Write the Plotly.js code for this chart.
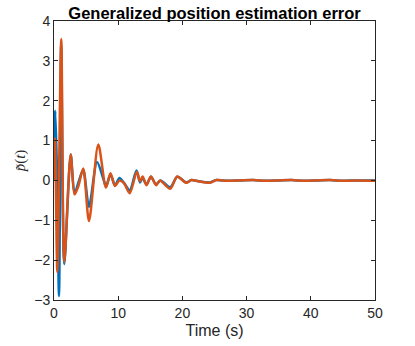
<!DOCTYPE html>
<html>
<head>
<meta charset="utf-8">
<script src="https://cdn.plot.ly/plotly-3.0.1.min.js"></script>
<style>
  html, body { margin: 0; padding: 0; background: #fff; }
  #chart { width: 415px; height: 346px; }
</style>
</head>
<body>
<div id="chart"></div>
<script>
// series 1 (blue)
var tBlue = [0, 0.2, 0.45, 0.78, 1.12, 1.6, 2.6, 3.2, 3.8, 4.55, 5.45, 6.7, 7.7, 8.1, 8.8, 9.5, 10.2, 10.9,
    11.8, 12.85, 13.4, 13.8, 14.4, 15.1, 15.9, 16.6, 18.1, 19.2, 20.6, 21.4, 22.5, 24.3, 25.3, 27, 29,
    31, 33, 35, 37, 39, 41, 43, 45, 47, 50];
var vBlue = [0, 1.75, 0.3, -2.9, 3.4, -2.1, 0.65, -0.33, -0.05, 0.27, -0.66, 0.46, 0.03, -0.15, 0.15, -0.12, 0.06, -0.06,
    -0.25, 0.25, -0.05, 0.06, -0.1, 0.09, -0.1, 0.0, -0.17, 0.09, -0.05, 0.01, -0.02, -0.05, 0.01, -0.01, 0.0,
    0.01, -0.01, 0.0, 0.01, -0.01, 0.0, 0.01, -0.01, 0.0, 0.0];

// series 2 (orange)
var tOrange = [0, 0.16, 0.52, 1.13, 1.6, 2.6, 3.2, 3.8, 4.55, 5.45, 6.9, 8.1, 8.8, 9.5, 10.2, 10.9,
    11.8, 12.9, 13.4, 13.8, 14.4, 15.1, 15.9, 16.5, 18.1, 19.2, 20.6, 21.4, 22.5, 24.3, 25.3, 27, 29,
    31, 33, 35, 37, 39, 41, 43, 45, 47, 50];
var vOrange = [0, 1.05, -2.3, 3.55, -2.05, 0.65, -0.35, -0.14, 0.3, -1.02, 0.9, -0.18, 0.18, -0.14, 0.0, -0.07,
    -0.32, 0.22, -0.02, 0.1, -0.12, 0.1, -0.12, 0.0, -0.21, 0.1, -0.06, 0.01, -0.02, -0.06, 0.01, -0.01, 0.0,
    0.01, -0.01, 0.0, 0.01, -0.01, 0.0, 0.01, -0.01, 0.0, -0.01];

var xTicks = [0, 10, 20, 30, 40, 50];
var yTicks = [-3, -2, -1, 0, 1, 2, 3, 4];

var trace1 = {
    x: tBlue, y: vBlue, type: 'scatter', mode: 'lines',
    line: { color: '#0072BD', width: 2.5, shape: 'spline', smoothing: 0.8 }
};
var trace2 = {
    x: tOrange, y: vOrange, type: 'scatter', mode: 'lines',
    line: { color: '#D95319', width: 2.5, shape: 'spline', smoothing: 0.8 }
};

var axisCommon = {
    showline: true, linecolor: '#262626', linewidth: 1, mirror: 'ticks',
    ticks: 'inside', ticklen: 4, tickcolor: '#262626', tickwidth: 1,
    showgrid: false, zeroline: false,
    tickfont: { family: 'Liberation Sans, Arial, sans-serif', size: 14, color: '#262626' }
};

var layout = {
    width: 415, height: 346,
    margin: { l: 54, r: 40, t: 21, b: 46 },
    paper_bgcolor: '#fff', plot_bgcolor: '#fff',
    showlegend: false,
    title: {
        text: '<b>Generalized position estimation error</b>',
        font: { family: 'Liberation Sans, Arial, sans-serif', size: 16.5, color: '#000' },
        x: 0.517, xanchor: 'center', y: 0.962, yanchor: 'middle'
    },
    xaxis: Object.assign({}, axisCommon, {
        range: [0, 50], tickvals: xTicks,
        title: { text: 'Time (s)', standoff: 5, font: { family: 'Liberation Sans, Arial, sans-serif', size: 16, color: '#262626' } }
    }),
    yaxis: Object.assign({}, axisCommon, {
        range: [-3, 4], tickvals: yTicks,
        title: { text: '<i>p\u0303</i>(<i>t</i>)', standoff: 4, font: { family: 'Liberation Serif, serif', size: 15, color: '#262626' } }
    })
};

Plotly.newPlot('chart', [trace1, trace2], layout, { displayModeBar: false, staticPlot: true });
</script>
</body>
</html>
